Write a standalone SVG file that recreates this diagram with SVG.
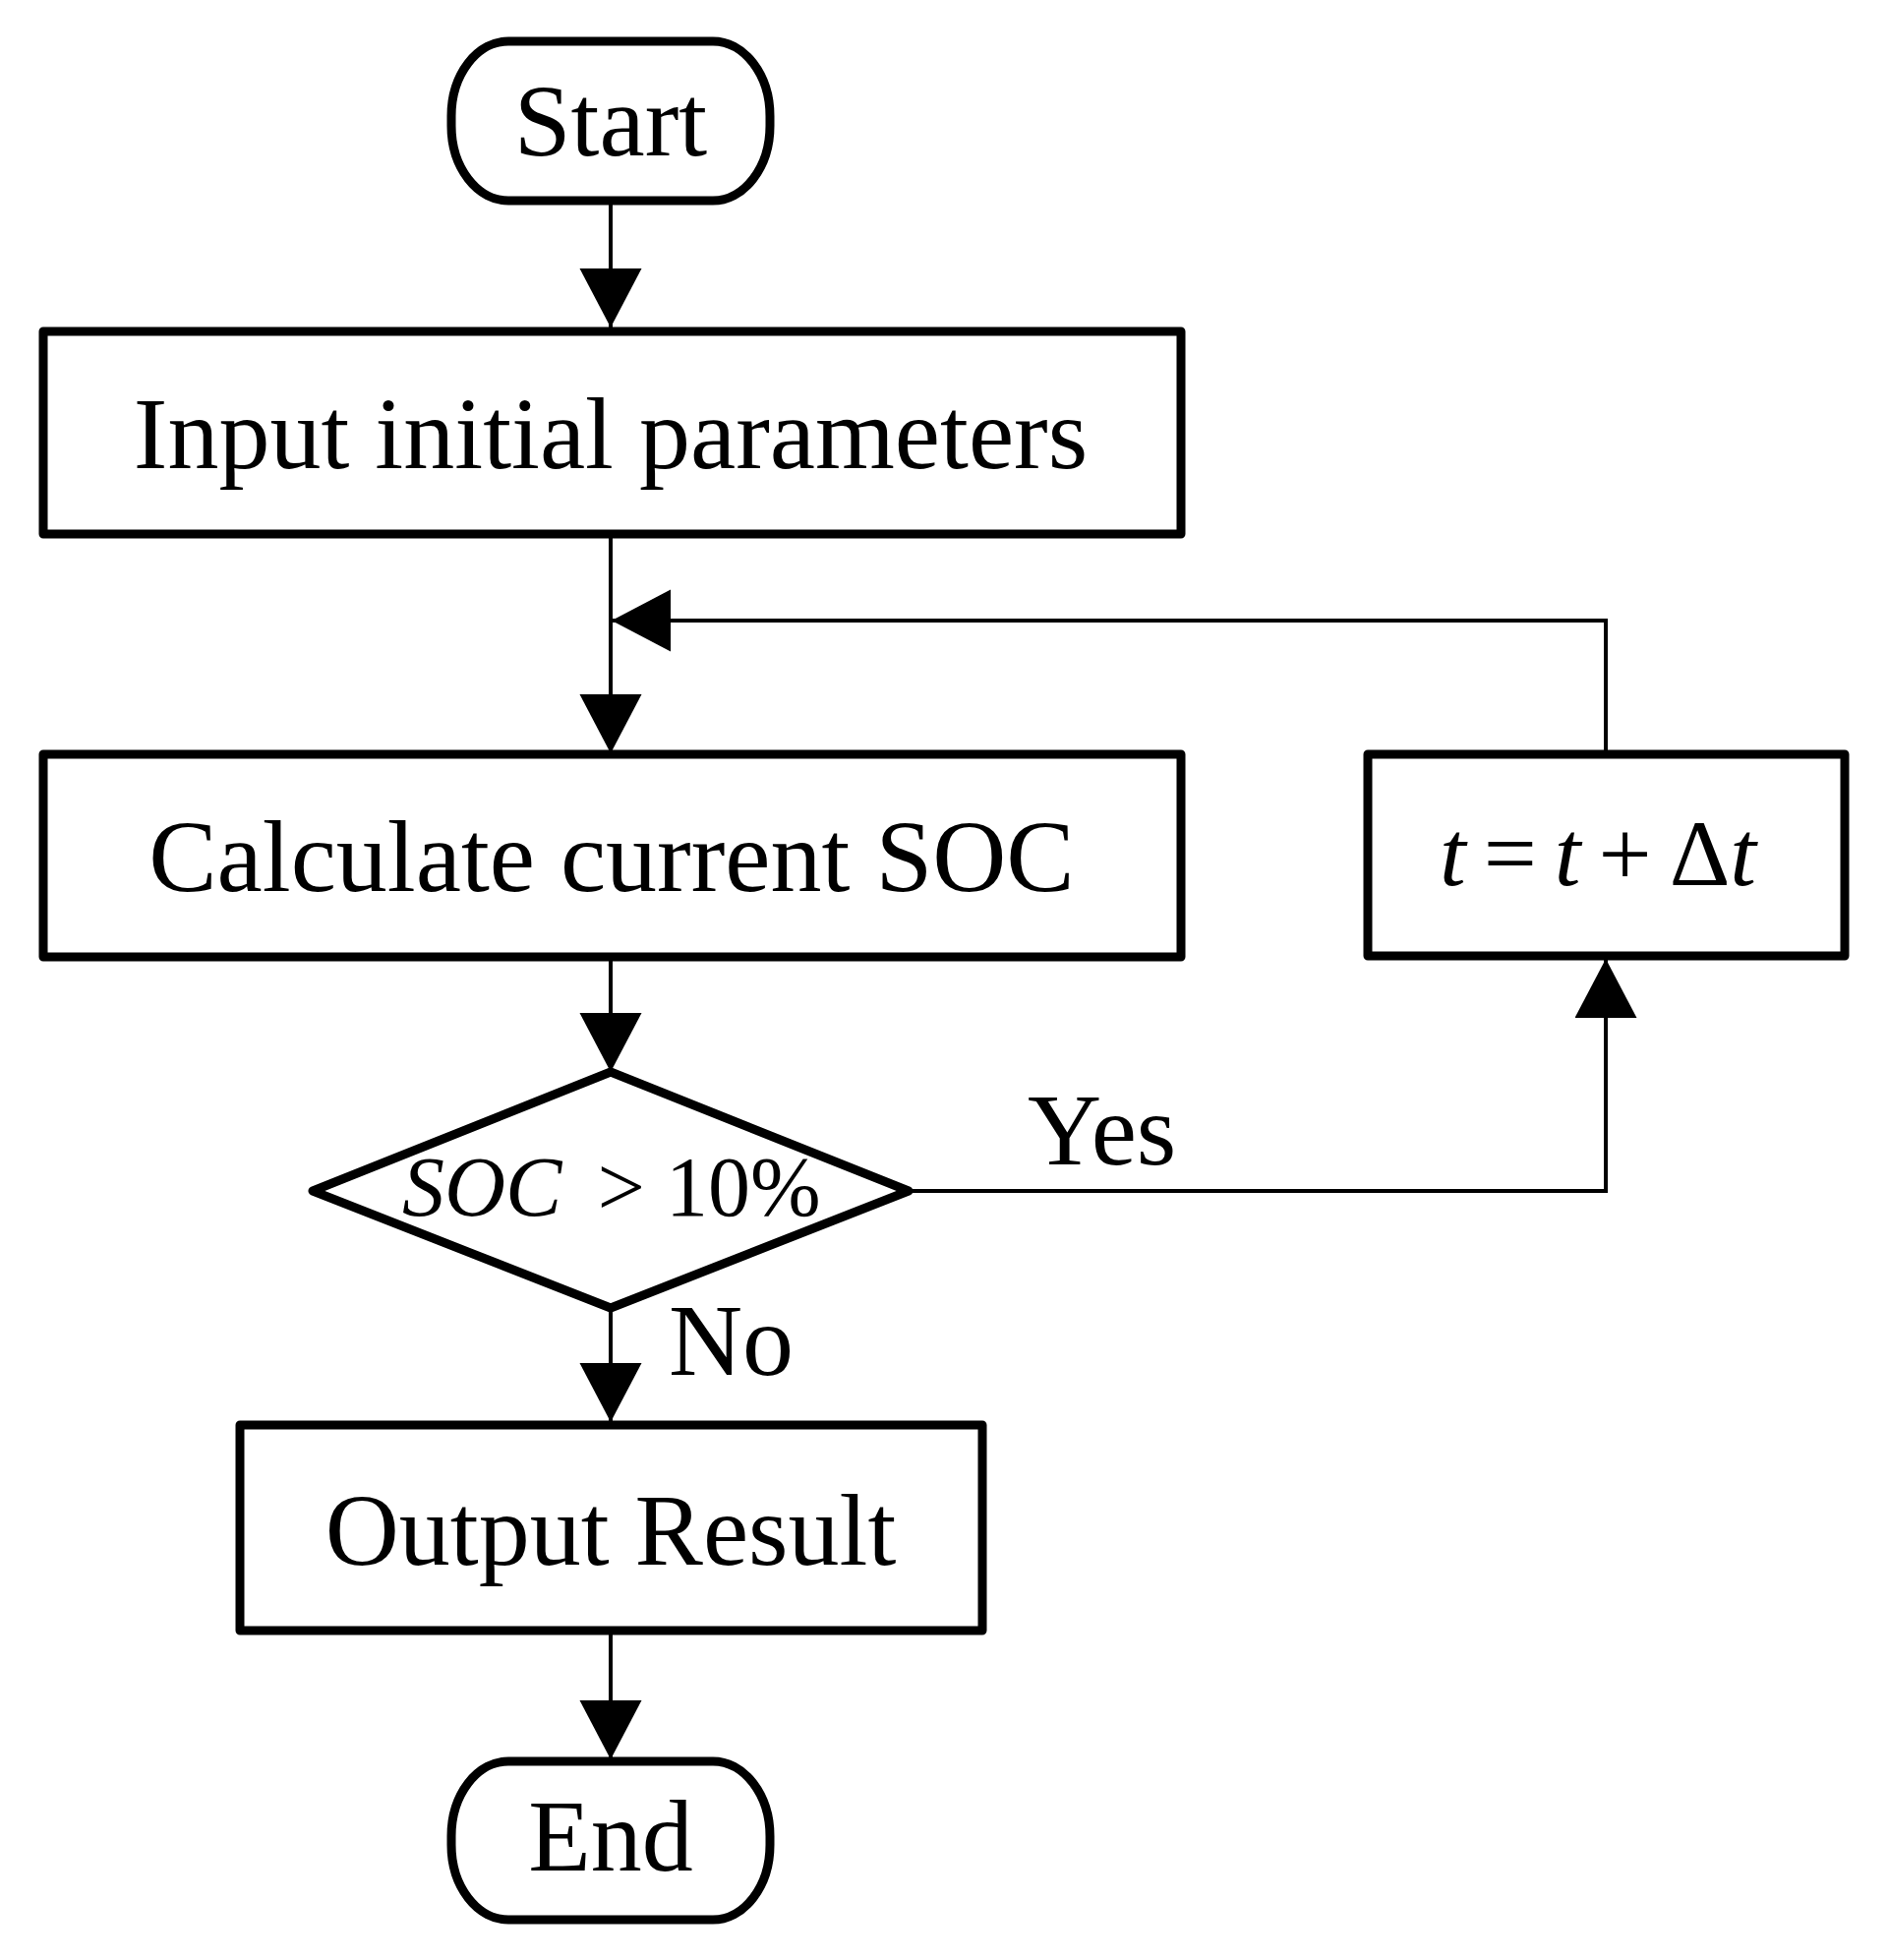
<svg xmlns="http://www.w3.org/2000/svg" width="1920" height="1993" viewBox="0 0 1920 1993">
<style>
.node{fill:#fff;stroke:#000;stroke-width:9;stroke-linejoin:round}
.conn{fill:none;stroke:#000;stroke-width:4}
.lbl{font-family:"Liberation Serif","Times New Roman",serif;font-size:104px;fill:#000}
.math{font-family:"Liberation Serif","Times New Roman",serif;fill:#000}
</style>
<defs>
<marker id="ah" markerUnits="userSpaceOnUse" markerWidth="62" markerHeight="64" refX="60" refY="31.5" orient="auto" viewBox="0 0 62 64">
<path d="M0,0 L60,31.5 L0,63 z" fill="#000"/>
</marker>
</defs>
<rect width="1920" height="1993" fill="#fff"/>
<g id="connectors">
<path class="conn" d="M621,208 L621,333" marker-end="url(#ah)"/>
<path class="conn" d="M621,543 L621,766" marker-end="url(#ah)"/>
<path class="conn" d="M1633,767 L1633,631 L622,631" marker-end="url(#ah)"/>
<path class="conn" d="M621,973 L621,1090" marker-end="url(#ah)"/>
<path class="conn" d="M924,1211 L1633,1211 L1633,975" marker-end="url(#ah)"/>
<path class="conn" d="M621,1330 L621,1446" marker-end="url(#ah)"/>
<path class="conn" d="M621,1658 L621,1789" marker-end="url(#ah)"/>
<text class="lbl" x="1045" y="1184">Yes</text>
<text class="lbl" x="680" y="1398">No</text>
</g>
<g id="start">
<rect class="node" x="459" y="42" width="324" height="162" rx="58" ry="76"/>
<text class="lbl" x="621" y="158" text-anchor="middle">Start</text>
</g>
<g id="input">
<rect class="node" x="44" y="337" width="1157" height="206"/>
<text class="lbl" x="621" y="476" text-anchor="middle">Input initial parameters</text>
</g>
<g id="calc">
<rect class="node" x="44" y="767" width="1157" height="206"/>
<text class="lbl" x="622" y="906" text-anchor="middle">Calculate current SOC</text>
</g>
<g id="update">
<rect class="node" x="1391" y="767" width="485" height="205"/>
<text class="math" x="1464" y="900" font-size="96"><tspan font-style="italic">t</tspan><tspan dx="18">=</tspan><tspan dx="18" font-style="italic">t</tspan><tspan dx="18">+</tspan><tspan dx="18">Δ</tspan><tspan font-style="italic">t</tspan></text>
</g>
<g id="decision">
<polygon class="node" points="621,1090 924,1211 621,1330 318,1211"/>
<text class="math" x="409" y="1236" font-size="86"><tspan font-style="italic">SOC</tspan><tspan dx="36">&gt;</tspan><tspan dx="21">10%</tspan></text>
</g>
<g id="output">
<rect class="node" x="244" y="1449" width="755" height="209"/>
<text class="lbl" x="621" y="1591" text-anchor="middle">Output Result</text>
</g>
<g id="end">
<rect class="node" x="459" y="1791" width="324" height="161" rx="58" ry="76"/>
<text class="lbl" x="621" y="1902" text-anchor="middle">End</text>
</g>
</svg>
